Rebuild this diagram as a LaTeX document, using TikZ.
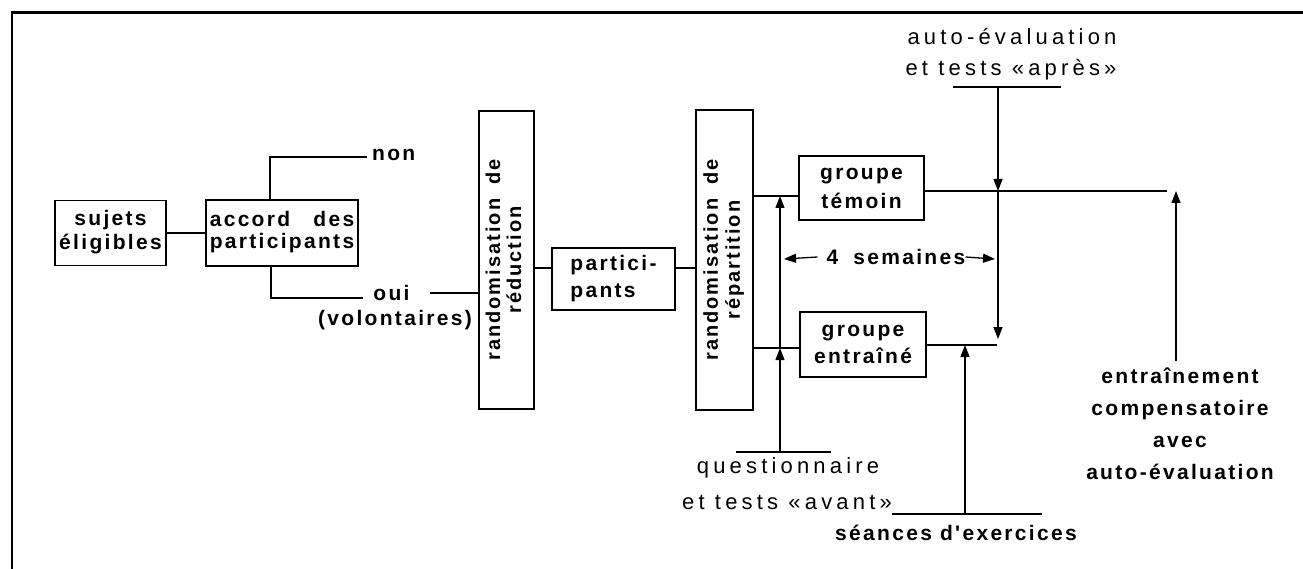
\documentclass[tikz,border=0pt]{standalone}
\usepackage{fontspec}
\usepackage{graphicx}
\usetikzlibrary{arrows.meta}
\newfontfamily\bsp{Liberation Sans}[LetterSpace=11]
\newfontfamily\bspr{Liberation Sans}[LetterSpace=10]
\newfontfamily\rsp{Liberation Sans}[LetterSpace=19]
\newcommand\bfs[1]{\bsp\bfseries\fontsize{21}{#1}\selectfont}
\newcommand\bfr[1]{\bspr\bfseries\fontsize{20}{#1}\selectfont}
\newcommand\rtxt{\rsp\fontsize{22}{34}\selectfont}
\begin{document}
\begin{tikzpicture}[x=1pt,y=-1pt,
  box/.style={draw, line width=1.6pt, inner sep=0pt, align=center},
  ln/.style={line width=1.3pt},
  arr/.style={line width=1.3pt, -{Triangle[length=12pt,width=9pt]}},
  lbl/.style={inner sep=0pt, align=center}]
\useasboundingbox (0,0) rectangle (1303,569);
% frame
\draw[line width=2.6pt] (11,12.5) -- (1303,12.5);
\draw[line width=2.6pt] (12,11.2) -- (12,569);
% boxes
\node[box, minimum width=111, minimum height=65] (suj) at (110.5,233)
  {\bfs{24}\raisebox{4pt}{\begin{tabular}{@{}c@{}}sujets\\éligibles\end{tabular}}};
\node[box, minimum width=152, minimum height=66] (acc) at (282,233)
  {\bfs{20}\raisebox{6pt}{\begin{tabular}{@{}l@{}}accord\hfill des\\participants\end{tabular}}};
\node[box, minimum width=55, minimum height=298] (red) at (506.5,260)
  {\rotatebox{90}{\bfr{21}\begin{tabular}{@{}c@{}}randomisation\hspace{14pt}de\\réduction\end{tabular}}};
\node[box, minimum width=123, minimum height=62] (par) at (613.5,279)
  {\bfs{27}\raisebox{4.5pt}{\begin{tabular}{@{}l@{}}partici-\\pants\end{tabular}}};
\node[box, minimum width=57, minimum height=300] (rep) at (724.5,260)
  {\rotatebox{90}{\bfr{22}\begin{tabular}{@{}c@{}}randomisation\hspace{14pt}de\\répartition\end{tabular}}};
\node[box, minimum width=125, minimum height=64] (tem) at (861.5,188)
  {\bfs{29}\begin{tabular}{@{}c@{}}groupe\\témoin\end{tabular}};
\node[box, minimum width=126, minimum height=65] (ent) at (863,344.5)
  {\bfs{27}\begin{tabular}{@{}c@{}}groupe\\entraîné\end{tabular}};
% labels
\node[lbl, anchor=west] (non) at (372,155) {\bfs{24}non};
\node[lbl] (oui) at (391.5,293) {\bfs{24}oui};
\node[lbl] (vol) at (395,320) {\bfs{24}(volontaires)};
\node[lbl] (q) at (788,468) {\rtxt questionnaire};
\node[lbl] (qa) at (787,502) {\rtxt et tests «avant»};
\node[lbl] (ae) at (1012,37) {\rtxt auto-évaluation};
\node[lbl] (at) at (1011,70) {\rtxt et tests «après»};
\node[lbl] (sem) at (896,257) {\bfs{24}4\hspace{15pt}semaines};
\node[lbl] (sea) at (956,533) {\bfs{24}séances d'exercices};
\node[lbl, font=\bfs{32}] (comp) at (1180,424)
  {entraînement\\compensatoire\\avec\\auto-évaluation};
% coordinates
\coordinate (m) at (0,268);
\coordinate (ty) at (0,196);
\coordinate (ey) at (0,348);
\coordinate (tend) at (1167,191);
\coordinate (eend) at (997,345);
\coordinate (qL) at (736,452);
\coordinate (qR) at (831,452);
\coordinate (qb) at (780,452);
\coordinate (sl) at (784,259);
\coordinate (sr) at (995,259);
\coordinate (aL) at (953,87);
\coordinate (aR) at (1061,87);
\coordinate (ab) at (998,87);
\coordinate (a2) at (998,339);
\coordinate (sL) at (892,514);
\coordinate (sR) at (1042,514);
\coordinate (sb) at (965,514);
\coordinate (cb) at (1176,361);
% connectors
\draw[ln] (suj.east) -- (acc.west);
\draw[ln] ([xshift=-12pt]acc.north) |- ([xshift=-5pt,yshift=-2pt]non.west);
\draw[ln] ([xshift=-11pt]acc.south) |- ([xshift=-10pt,yshift=-5pt]oui.west);
\draw[ln] ([xshift=20pt]oui.east) -- (red.west |- oui);
\draw[ln] (red.east |- m) -- (par.west |- m);
\draw[ln] (par.east |- m) -- (rep.west |- m);
\draw[ln] (rep.east |- ty) -- (tem.west |- ty);
\draw[ln] (rep.east |- ey) -- (ent.west |- ey);
\draw[ln] (tem.east |- tend) -- (tend);
\draw[ln] (ent.east |- eend) -- (eend);
\draw[ln] (qL) -- (qR);
\draw[arr] (qb) -- (qb |- ey);
\draw[arr] (qb |- ey) -- (qb |- ty);
\draw[arr] ([xshift=-9pt]sem.west) -- (sl);
\draw[arr] (sem.east) -- (sr);
\draw[ln] (aL) -- (aR);
\draw[arr] (ab) -- (ab |- tend);
\draw[arr] (ab |- tend) -- (a2);
\draw[ln] (sL) -- (sR);
\draw[arr] (sb) -- (sb |- eend);
\draw[arr] (cb) -- (cb |- tend);
\end{tikzpicture}
\end{document}
